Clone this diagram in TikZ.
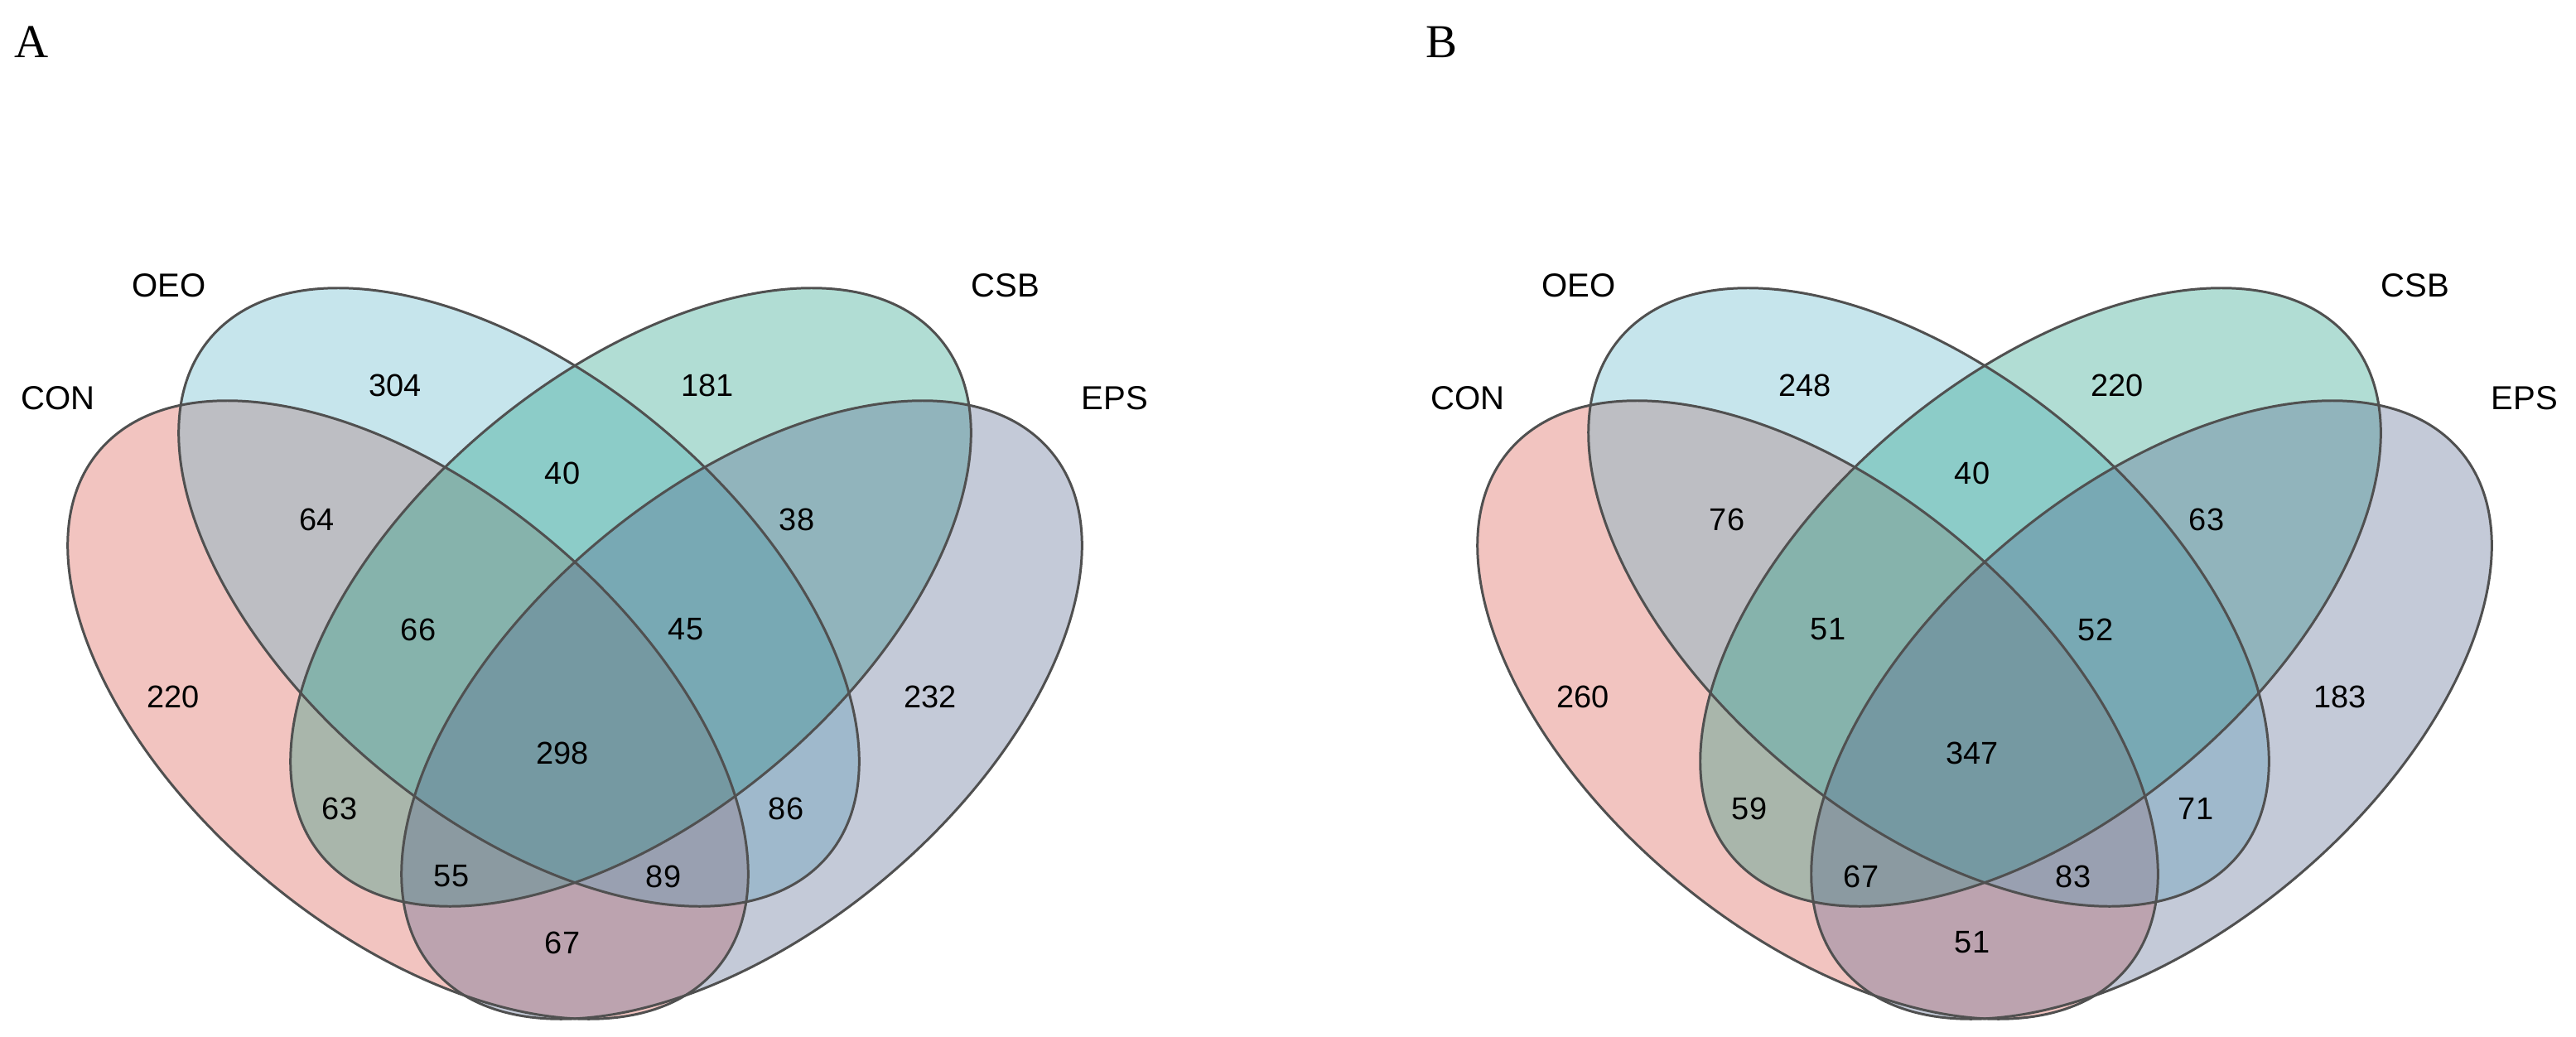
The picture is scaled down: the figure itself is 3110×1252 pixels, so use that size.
\documentclass[tikz,border=0pt]{standalone}
\usepackage{fontspec}
\setmainfont{Liberation Sans}
\newfontfamily\panelfont{Liberation Serif}
\definecolor{conred}{RGB}{218,86,75}
\definecolor{oeoblue}{RGB}{92,181,201}
\definecolor{csbgreen}{RGB}{32,158,132}
\definecolor{epsgray}{RGB}{86,104,144}
\definecolor{rimgray}{RGB}{80,80,80}
\begin{document}
\begin{tikzpicture}[x=0.01cm, y=-0.01cm,
    rim/.style={draw=rimgray, line width=0.85pt},
    lab/.style={inner sep=0pt, font=\fontsize{11.4}{13}\selectfont},
    num/.style={inner sep=0pt, font=\fontsize{10.8}{13}\selectfont},
    tagfont/.style={inner sep=0pt, font=\panelfont\fontsize{16.2}{18}\selectfont}]
\useasboundingbox (0,0) rectangle (3110,1252);

% both panels share the same four ellipses
\foreach \pn/\dx/\tag in {a/0/A, b/1702/B}
{
  \begin{scope}[shift={(\dx,0)}]
    \fill[conred, fill opacity=.35, rotate around={-39.88:(492.5,857)}] (492.5,857) ellipse [x radius=4.862cm, y radius=2.669cm];
    \fill[oeoblue, fill opacity=.35, rotate around={-39.88:(626.5,721)}] (626.5,721) ellipse [x radius=4.862cm, y radius=2.669cm];
    \fill[csbgreen, fill opacity=.35, rotate around={39.88:(761.5,721)}] (761.5,721) ellipse [x radius=4.862cm, y radius=2.669cm];
    \fill[epsgray, fill opacity=.35, rotate around={39.88:(895.5,857)}] (895.5,857) ellipse [x radius=4.862cm, y radius=2.669cm];

    \draw[rim, rotate around={-39.88:(492.5,857)}] (492.5,857) ellipse [x radius=4.862cm, y radius=2.669cm];
    \draw[rim, rotate around={-39.88:(626.5,721)}] (626.5,721) ellipse [x radius=4.862cm, y radius=2.669cm];
    \draw[rim, rotate around={39.88:(761.5,721)}] (761.5,721) ellipse [x radius=4.862cm, y radius=2.669cm];
    \draw[rim, rotate around={39.88:(895.5,857)}] (895.5,857) ellipse [x radius=4.862cm, y radius=2.669cm];

    \node[tagfont] (\pn-tag) at (38,51) {\tag};
    \node[lab] (\pn-con) at (70,481) {CON};
    \node[lab] (\pn-oeo) at (204,345) {OEO};
    \node[lab] (\pn-csb) at (1214,345) {CSB};
    \node[lab] (\pn-eps) at (1346,481) {EPS};
  \end{scope}
}

% counts, panel A
\foreach \x/\y/\v [count=\i] in {477/465/304, 854/465/181, 383/627/64, 679/571/40, 962/627/38,
    505/760/66, 828/760/45, 209/841/220, 679/909/298, 1123/841/232,
    410/976/63, 949/976/86, 545/1058/55, 801/1058/89, 679/1138/67}
  \node[num] (a-n\i) at (\x,\y) {\v};

% counts, panel B
\begin{scope}[shift={(1702,0)}]
\foreach \x/\y/\v [count=\i] in {477/465/248, 854/465/220, 383/627/76, 679/571/40, 962/627/63,
    505/760/51, 828/760/52, 209/841/260, 679/909/347, 1123/841/183,
    410/976/59, 949/976/71, 545/1058/67, 801/1058/83, 679/1138/51}
  \node[num] (b-n\i) at (\x,\y) {\v};
\end{scope}
\end{tikzpicture}
\end{document}
